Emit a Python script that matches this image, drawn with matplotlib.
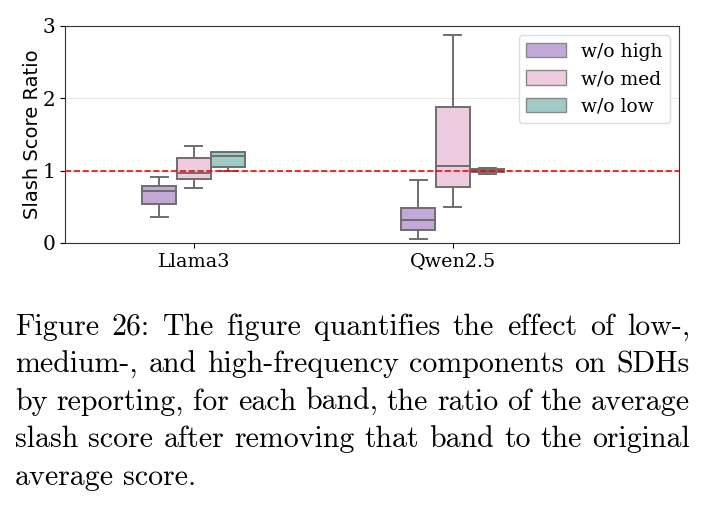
import matplotlib
matplotlib.use("Agg")
import matplotlib.pyplot as plt
from matplotlib.patches import Patch

# data: box stats per model
models = ["Llama3", "Qwen2.5"]
bands = ["w/o high", "w/o med", "w/o low"]
colors = ["#c2a9d7", "#efcbe0", "#9fcac6"]

# [model][band]
whislo = [[0.36, 0.76, 1.00], [0.055, 0.49, 0.95]]
q1 = [[0.54, 0.885, 1.055], [0.18, 0.775, 0.985]]
med = [[0.72, 0.96, 1.20], [0.31, 1.065, 1.005]]
q3 = [[0.78, 1.18, 1.25], [0.48, 1.88, 1.025]]
whishi = [[0.91, 1.345, 1.25], [0.87, 2.87, 1.03]]

caption = [
    "Figure 26: The figure quantifies the effect of low-,",
    "medium-, and high-frequency components on SDHs",
    "by reporting, for each band, the ratio of the average",
    "slash score after removing that band to the original",
    "average score.",
]

fig = plt.figure(figsize=(7.05, 5.07), dpi=100)
ax = fig.add_axes([0.092, 0.521, 0.871, 0.428])

box_w = 0.4 / 3
edge = "#6e6e6e"
for i in range(len(models)):
    for j in range(len(bands)):
        stats = [dict(med=med[i][j], q1=q1[i][j], q3=q3[i][j],
                      whislo=whislo[i][j], whishi=whishi[i][j], fliers=[])]
        pos = i + (j - 1) * box_w
        ax.bxp(stats, positions=[pos], widths=box_w * 0.98, patch_artist=True,
               showfliers=False,
               boxprops=dict(facecolor=colors[j], edgecolor=edge, linewidth=1.4),
               medianprops=dict(color=edge, linewidth=1.4),
               whiskerprops=dict(color=edge, linewidth=1.4),
               capprops=dict(color=edge, linewidth=1.4),
               capwidths=box_w * 0.5)

ax.axhline(1.0, color="red", linestyle="--", linewidth=1.2, zorder=5)
ax.set_xlim(-0.498, 1.873)
ax.set_ylim(0, 3)
ax.set_yticks([0, 1, 2, 3])
ax.set_xticks(range(len(models)))
ax.set_xticklabels(models, fontsize=13.8, family="DejaVu Serif")
for t in ax.get_yticklabels():
    t.set_fontsize(14.5)
    t.set_family("DejaVu Serif")
ax.yaxis.grid(True, color="#e6e6e6", linewidth=0.8)
ax.set_axisbelow(True)
ax.set_ylabel("Slash Score Ratio", fontsize=14, family="DejaVu Sans", labelpad=0)
for s in ax.spines.values():
    s.set_color("#333333")

handles = [Patch(facecolor=c, edgecolor="#888888", label=b) for c, b in zip(colors, bands)]
ax.legend(handles=handles, loc="upper right", prop=dict(family="DejaVu Serif", size=13.5),
          framealpha=1, edgecolor="#dddddd", fancybox=True,
          handlelength=2.1, handleheight=0.8)

# justified caption: spread words between the left and right margins
renderer = fig.canvas.get_renderer()
x0, x1 = 15 / 705, 690 / 705
y = 1 - 327 / 507
for k, line in enumerate(caption):
    words = line.split()
    texts = [fig.text(0, y, w, fontsize=21.5, family="cmr10", va="center", ha="left")
             for w in words]
    widths = [t.get_window_extent(renderer).width / fig.bbox.width for t in texts]
    if k < len(caption) - 1:
        gap = (x1 - x0 - sum(widths)) / (len(words) - 1)
    else:
        gap = 0.3 * 21.5 / 72 * 100 / fig.bbox.width
    x = x0
    for t, w in zip(texts, widths):
        t.set_x(x)
        x += w + gap
    y -= 37.5 / 507

fig.savefig("out.png", dpi=100)
